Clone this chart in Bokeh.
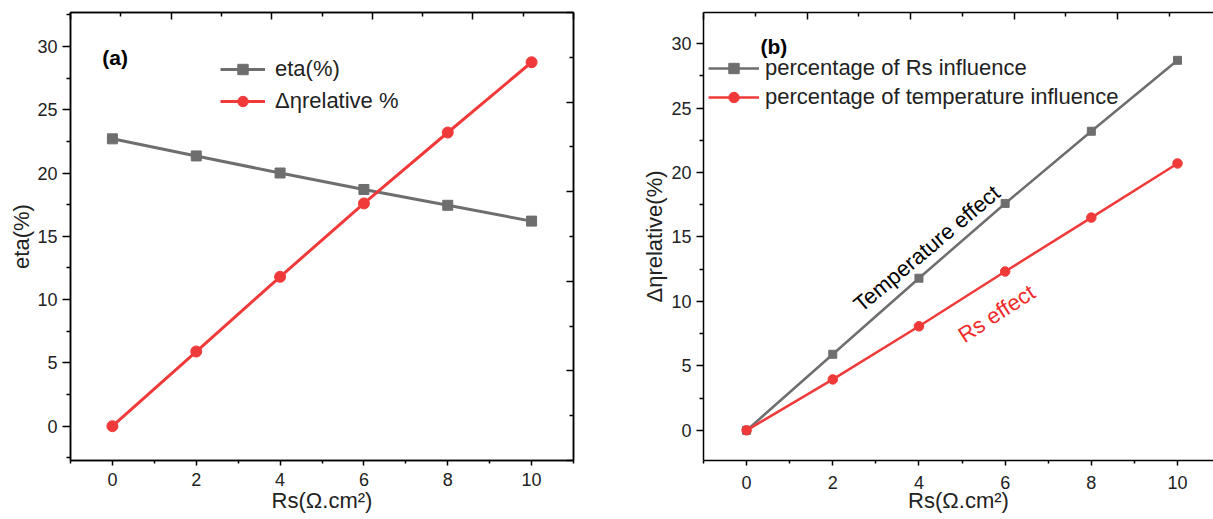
from bokeh.plotting import figure
from bokeh.layouts import row
from bokeh.models import Range1d, LinearAxis, FixedTicker, CustomJSTickFormatter
from bokeh.core.properties import value
from bokeh.embed import file_html
from bokeh.resources import INLINE

# ---------------- data ----------------
rs = [0, 2, 4, 6, 8, 10]
eta = [22.7, 21.35, 20.0, 18.7, 17.45, 16.2]
d_eta_rel = [0.0, 5.9, 11.8, 17.6, 23.2, 28.75]
rs_influence = [0.0, 5.9, 11.8, 17.6, 23.2, 28.7]
temp_influence = [0.0, 3.95, 8.07, 12.32, 16.5, 20.7]

x_major = [0, 2, 4, 6, 8, 10]
x_minor = [-1, 1, 3, 5, 7, 9, 11]
y_major = [0, 5, 10, 15, 20, 25, 30]
y_minor = [-2.5, 2.5, 7.5, 12.5, 17.5, 22.5, 27.5, 32.5]
deco_major = [0, 2, 4, 6, 8, 10]
deco_minor = [1, 3, 5, 7, 9]

GREY = "#6e6e6e"
RED = "#f03a3a"
FONT = "Liberation Sans"
XLABEL = "Rs(\u03a9.cm\u00b2)"


def style_axes(p, ylabel, ytick_out, xlabel_standoff, xtitle_standoff, ylabel_standoff):
    p.xgrid.visible = False
    p.ygrid.visible = False
    p.xaxis.ticker = FixedTicker(ticks=x_major, minor_ticks=x_minor)
    p.yaxis.ticker = FixedTicker(ticks=y_major, minor_ticks=y_minor)
    for ax in (p.xaxis[0], p.yaxis[0]):
        ax.axis_line_width = 1.5
        ax.axis_line_color = "black"
        ax.major_tick_line_width = 1.5
        ax.minor_tick_line_width = 1.5
        ax.major_tick_in = 0
        ax.minor_tick_in = 0
        ax.major_label_text_font = FONT
        ax.major_label_text_font_size = "18px"
        ax.major_label_text_color = "#222222"
        ax.axis_label_text_font = FONT
        ax.axis_label_text_font_size = "22px"
        ax.axis_label_text_font_style = "normal"
        ax.axis_label_text_color = "#222222"
    p.xaxis.major_tick_out = 5
    p.xaxis.minor_tick_out = 3
    p.yaxis.major_tick_out = ytick_out
    p.yaxis.minor_tick_out = 4
    p.xaxis.axis_label = XLABEL
    p.xaxis.major_label_standoff = xlabel_standoff
    p.xaxis.axis_label_standoff = xtitle_standoff
    p.yaxis.axis_label = ylabel
    p.yaxis.major_label_standoff = 5
    p.yaxis.axis_label_standoff = ylabel_standoff


def deco_axis(p, side, rng_name):
    t = FixedTicker(ticks=deco_major, minor_ticks=deco_minor)
    if side == "above":
        ax = LinearAxis(x_range_name=rng_name, ticker=t)
    else:
        ax = LinearAxis(y_range_name=rng_name, ticker=t)
    ax.formatter = CustomJSTickFormatter(code="return ''")
    ax.axis_line_width = 1.5
    ax.major_tick_line_width = 1.5
    ax.minor_tick_line_width = 1.5
    ax.major_tick_out = 0
    ax.minor_tick_out = 0
    ax.major_tick_in = 7
    ax.minor_tick_in = 4
    ax.major_label_text_font_size = "1px"
    ax.major_label_standoff = -6
    p.add_layout(ax, side)


# ---------------- panel (a) ----------------
p1 = figure(width=635, height=519, x_range=Range1d(-1, 11), y_range=Range1d(-2.71, 32.68),
            output_backend="svg", toolbar_location=None,
            min_border_left=70, min_border_right=62, min_border_top=12, min_border_bottom=59)
p1.outline_line_color = "black"
p1.outline_line_width = 1.5
p1.extra_x_ranges = {"top": Range1d(0, 10)}
p1.extra_y_ranges = {"right": Range1d(0, 10)}
style_axes(p1, "eta(%)", 8, 7, -1, 0)
deco_axis(p1, "above", "top")
deco_axis(p1, "right", "right")

p1.line(rs, eta, line_color=GREY, line_width=3, legend_label="eta(%)")
p1.scatter(rs, eta, marker="square", size=10, fill_color=GREY, line_color=GREY, legend_label="eta(%)")
p1.line(rs, d_eta_rel, line_color=RED, line_width=3, legend_label="\u0394\u03b7relative %")
p1.scatter(rs, d_eta_rel, marker="circle", size=11, fill_color=RED, line_color=RED,
           legend_label="\u0394\u03b7relative %")

p1.text(x=[-0.24], y=[29.1], text=["(a)"], text_font=value(FONT), text_font_size="21px",
        text_font_style="bold", text_baseline="middle", text_align="left", text_color="black")

lg = p1.legend[0]
lg.location = (150, 346)
lg.border_line_color = None
lg.background_fill_alpha = 0
lg.padding = 0
lg.margin = 0
lg.spacing = 6
lg.glyph_height = 26
lg.label_height = 26
lg.glyph_width = 45
lg.label_standoff = 10
lg.label_text_font = FONT
lg.label_text_font_size = "22px"
lg.label_text_color = "#222222"

# ---------------- panel (b) ----------------
p2 = figure(width=578, height=519, x_range=Range1d(-1, 10.835), y_range=Range1d(-2.34, 32.41),
            output_backend="svg", toolbar_location=None,
            min_border_left=68, min_border_right=0, min_border_top=12, min_border_bottom=59)
p2.outline_line_color = None
p2.extra_x_ranges = {"top": Range1d(0, 9.85)}
style_axes(p2, "\u0394\u03b7relative(%)", 7, 10, -4, 1)
deco_axis(p2, "above", "top")

p2.line(rs, rs_influence, line_color=GREY, line_width=2.5, legend_label="percentage of Rs influence")
p2.scatter(rs, rs_influence, marker="square", size=8, fill_color=GREY, line_color=GREY,
           legend_label="percentage of Rs influence")
p2.line(rs, temp_influence, line_color=RED, line_width=2.5,
        legend_label="percentage of temperature influence")
p2.scatter(rs, temp_influence, marker="circle", size=9.5, fill_color=RED, line_color=RED,
           legend_label="percentage of temperature influence")

p2.text(x=[0.32], y=[29.8], text=["(b)"], text_font=value(FONT), text_font_size="21px",
        text_font_style="bold", text_baseline="middle", text_align="left", text_color="black")
p2.text(x=[4.18], y=[14.1], text=["Temperature effect"], text_font=value(FONT),
        text_font_size="22px", text_baseline="middle", text_align="center", text_color="black",
        angle=40, angle_units="deg")
p2.text(x=[5.8], y=[9.05], text=["Rs effect"], text_font=value(FONT),
        text_font_size="22px", text_baseline="middle", text_align="center", text_color="#f02a2a",
        angle=33, angle_units="deg")

lg2 = p2.legend[0]
lg2.location = (5, 350)
lg2.border_line_color = None
lg2.background_fill_alpha = 0
lg2.padding = 0
lg2.margin = 0
lg2.spacing = 3
lg2.glyph_height = 26
lg2.label_height = 26
lg2.glyph_width = 51
lg2.label_standoff = 6
lg2.label_text_font = FONT
lg2.label_text_font_size = "22px"
lg2.label_text_color = "#222222"

layout = row(p1, p2)
open("out.html", "w").write(file_html(layout, INLINE))
